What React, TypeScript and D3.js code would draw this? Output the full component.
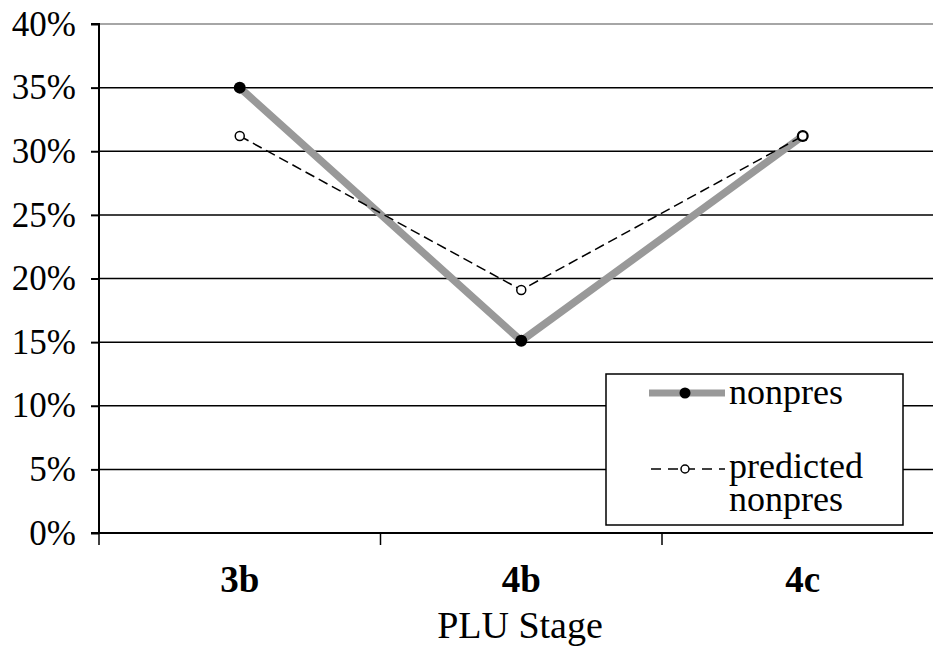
import * as d3 from "d3";
import { useEffect, useRef } from "react";

const categories = ["3b", "4b", "4c"];
const nonpres = [0.35, 0.151, 0.312];
const predicted = [0.312, 0.191, 0.312];
const yTicks = [0, 0.05, 0.1, 0.15, 0.2, 0.25, 0.3, 0.35, 0.4];

const App = () => {
  const width = 933;
  const height = 653;
  const svgRef = useRef(null);

  useEffect(() => {
    if (!svgRef.current) return;
    const svg = d3.select(svgRef.current);
    svg.selectAll("*").remove();
    const font = "'Liberation Serif', 'Times New Roman', serif";

    const left = 99;
    const right = 943.5;
    const top = 24;
    const bottom = 533;

    const x = d3.scaleBand(categories, [left, right]);
    const y = d3.scaleLinear([0, 0.4], [bottom, top]);
    const cx = (c) => x(c) + x.bandwidth() / 2;

    // gridlines
    svg
      .append("g")
      .selectAll("line")
      .data(yTicks.filter((t) => t > 0))
      .join("line")
      .attr("x1", left)
      .attr("x2", width)
      .attr("y1", (t) => y(t))
      .attr("y2", (t) => y(t))
      .attr("stroke", (t) => (t === 0.4 ? "#888" : "black"))
      .attr("stroke-width", 1.5);

    // y axis
    const yAxis = d3
      .axisLeft(y)
      .tickValues(yTicks)
      .tickSize(8)
      .tickFormat((d) => `${Math.round(d * 100)}%`);
    const gy = svg.append("g").attr("transform", `translate(${left},0)`).call(yAxis);
    gy.select(".domain").attr("stroke", "black").attr("stroke-width", 2).attr("d", `M-8,${top}H0V${bottom}H-8`);
    gy.selectAll(".tick line").attr("stroke-width", 2);
    gy.selectAll(".tick text")
      .attr("font-family", font)
      .attr("font-size", 35)
      .attr("fill", "black")
      .attr("x", -23)
      .attr("dy", "0.32em");

    // x axis
    svg
      .append("line")
      .attr("x1", left - 8)
      .attr("x2", width)
      .attr("y1", bottom)
      .attr("y2", bottom)
      .attr("stroke", "black")
      .attr("stroke-width", 2);
    svg
      .append("g")
      .selectAll("line")
      .data(categories)
      .join("line")
      .attr("x1", (c) => x(c))
      .attr("x2", (c) => x(c))
      .attr("y1", bottom)
      .attr("y2", bottom + 12)
      .attr("stroke", "black")
      .attr("stroke-width", 1.5);
    svg
      .append("g")
      .selectAll("text")
      .data(categories)
      .join("text")
      .attr("x", (c) => cx(c))
      .attr("y", 592)
      .attr("text-anchor", "middle")
      .attr("font-family", font)
      .attr("font-weight", "bold")
      .attr("font-size", 37)
      .text((c) => c);
    svg
      .append("text")
      .attr("x", 520)
      .attr("y", 638)
      .attr("text-anchor", "middle")
      .attr("font-family", font)
      .attr("font-size", 38)
      .text("PLU Stage");

    const line = d3
      .line()
      .x((d, i) => cx(categories[i]))
      .y((d) => y(d));

    svg
      .append("path")
      .datum(nonpres)
      .attr("d", line)
      .attr("fill", "none")
      .attr("stroke", "#999")
      .attr("stroke-width", 7.5);
    svg
      .append("g")
      .selectAll("circle")
      .data(nonpres)
      .join("circle")
      .attr("cx", (d, i) => cx(categories[i]))
      .attr("cy", (d) => y(d))
      .attr("r", 6)
      .attr("fill", "black");

    svg
      .append("path")
      .datum(predicted)
      .attr("d", line)
      .attr("fill", "none")
      .attr("stroke", "black")
      .attr("stroke-width", 1.5)
      .attr("stroke-dasharray", "10,5");
    svg
      .append("g")
      .selectAll("circle")
      .data(predicted)
      .join("circle")
      .attr("cx", (d, i) => cx(categories[i]))
      .attr("cy", (d) => y(d))
      .attr("r", 4.5)
      .attr("fill", "white")
      .attr("stroke", "black")
      .attr("stroke-width", 1.5);

    // legend
    const lg = svg.append("g");
    lg.append("rect")
      .attr("x", 606)
      .attr("y", 374)
      .attr("width", 297)
      .attr("height", 151)
      .attr("fill", "white")
      .attr("stroke", "black")
      .attr("stroke-width", 1.5);
    lg.append("line")
      .attr("x1", 649)
      .attr("x2", 725)
      .attr("y1", 393)
      .attr("y2", 393)
      .attr("stroke", "#999")
      .attr("stroke-width", 7);
    lg.append("circle").attr("cx", 685).attr("cy", 393).attr("r", 5.5).attr("fill", "black");
    lg.append("line")
      .attr("x1", 651)
      .attr("x2", 725)
      .attr("y1", 469)
      .attr("y2", 469)
      .attr("stroke", "black")
      .attr("stroke-width", 1.5)
      .attr("stroke-dasharray", "10,7");
    lg.append("circle")
      .attr("cx", 685)
      .attr("cy", 469)
      .attr("r", 4)
      .attr("fill", "white")
      .attr("stroke", "black")
      .attr("stroke-width", 1.5);
    const texts = [
      ["nonpres", 404],
      ["predicted", 478],
      ["nonpres", 511],
    ];
    lg.selectAll("text")
      .data(texts)
      .join("text")
      .attr("x", 729)
      .attr("y", (d) => d[1])
      .attr("font-family", font)
      .attr("font-size", 36)
      .text((d) => d[0]);
  }, []);

  return (
    <svg
      width={width}
      height={height}
      ref={svgRef}
      style={{ position: "absolute", left: 0, top: 0, background: "white" }}
    ></svg>
  );
};

export default App;
